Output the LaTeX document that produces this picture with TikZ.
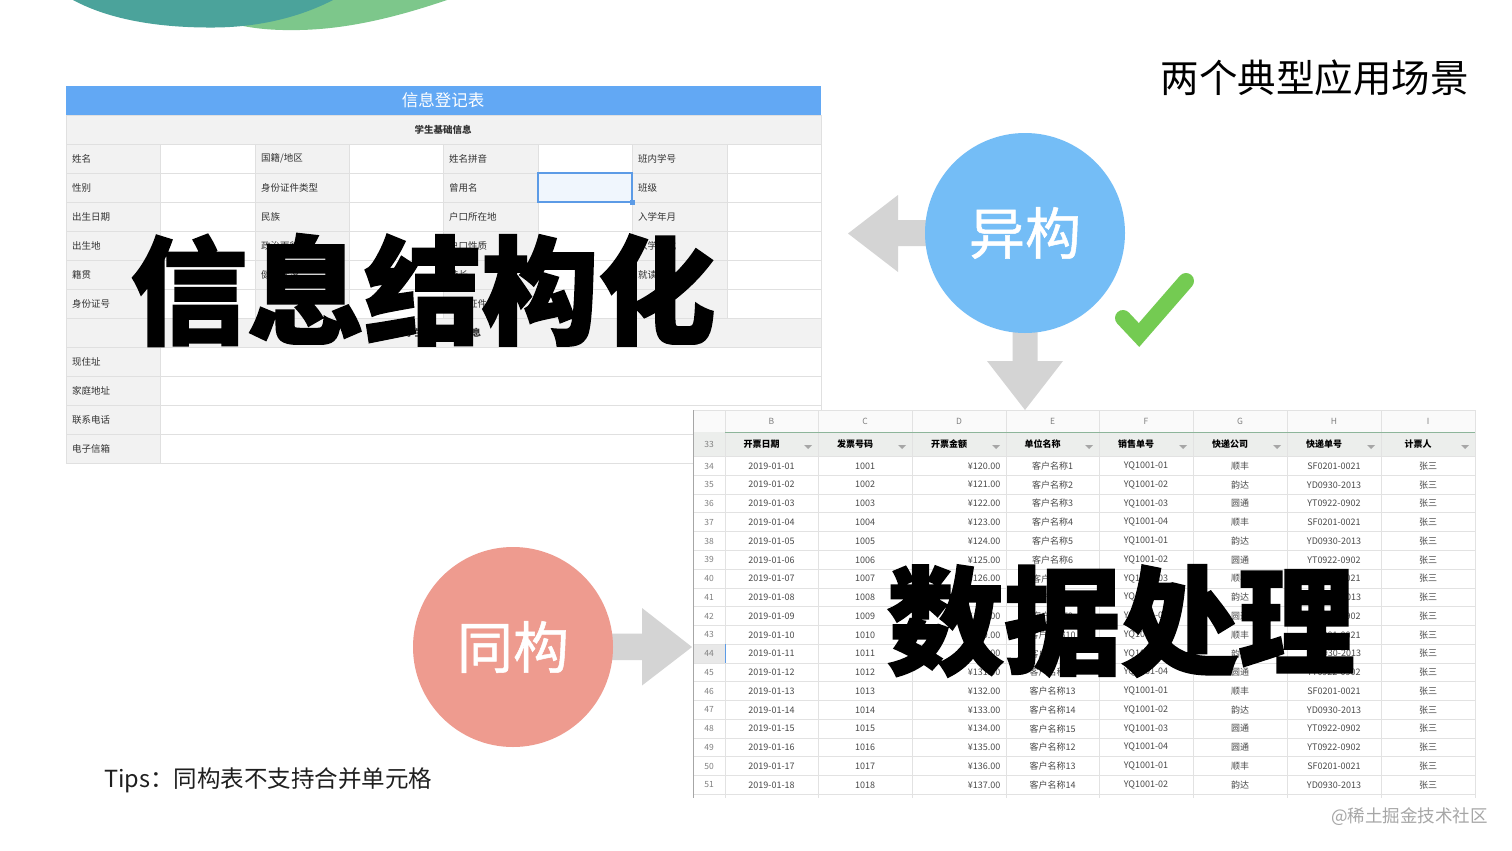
\documentclass[tikz,border=0pt]{standalone}
\usepackage{fontspec}
\setmainfont{Noto Sans CJK SC}
\newfontfamily\heavyfont{Noto Sans CJK SC}[BoldFeatures={FakeBold=1.6}]
\newfontfamily\medfont{Noto Sans CJK SC}[FakeBold=0.9]
\usetikzlibrary{calc}
\definecolor{teal1}{HTML}{4BA39B}
\definecolor{green1}{HTML}{7DC78B}
\definecolor{hdrblue}{HTML}{62A8F4}
\definecolor{cellgray}{HTML}{F2F2F2}
\definecolor{gridc}{HTML}{E0E0E0}
\definecolor{txt}{HTML}{333333}
\definecolor{circblue}{HTML}{74BDF6}
\definecolor{circred}{HTML}{EE9B8F}
\definecolor{arrowgray}{HTML}{D4D4D4}
\definecolor{checkgreen}{HTML}{74CB52}
\definecolor{selblue}{HTML}{5C9BE6}
\definecolor{selfill}{HTML}{F0F6FD}
\definecolor{sshead}{HTML}{ECEEEC}
\definecolor{ssletter}{HTML}{FAFAFA}
\definecolor{ssline}{HTML}{E2E2E2}
\definecolor{sstext}{HTML}{4A4A4A}
\definecolor{ssgreen}{HTML}{8DB59A}
\begin{document}
\begin{tikzpicture}[x=1pt,y=-1pt,
  flabel/.style={anchor=west,inner sep=0pt,text=txt,font=\fontsize{9.5}{11}\selectfont},
  sscell/.style={inner sep=0pt,text=sstext,font=\fontsize{9}{10}\selectfont},
  ssnum/.style={inner sep=0pt,text=gray,font=\fontsize{8.5}{10}\selectfont},
  sshdr/.style={inner sep=0pt,text=black,font=\fontsize{9}{10}\selectfont\bfseries},
  sslet/.style={inner sep=0pt,text=gray,font=\fontsize{8.5}{10}\selectfont},
  bigtext/.style={inner sep=0pt,text=black,font=\heavyfont\fontsize{117}{120}\selectfont\bfseries},
  bubble/.style={circle,minimum size=200pt,inner sep=0pt,text=white,font=\medfont\fontsize{56}{60}\selectfont},
  gridline/.style={draw=gridc,line width=0.8pt},
  ssgrid/.style={draw=ssline,line width=0.8pt}]
\useasboundingbox (0,0) rectangle (1512,851);
\fill[white] (0,0) rectangle (1512,851);

% decorative waves at top
\fill[green1] (190,0) .. controls (215,25) and (255,31) .. (300,30) .. controls (350,29) and (400,16) .. (447,0) -- cycle;
\fill[teal1] (73,0) .. controls (110,20) and (160,28) .. (215,27.5) .. controls (270,27) and (310,12) .. (333,0) -- cycle;

% title
\node[anchor=east,inner sep=0pt,font=\fontsize{38.5}{40}\selectfont] (title) at (1469,78) {两个典型应用场景};

% ---------------- form ----------------
\fill[hdrblue] (66,86) rectangle (821,115);
\node[inner sep=0pt,text=white,font=\fontsize{16.5}{18}\selectfont] (ftitle) at (443,100) {信息登记表};
\fill[cellgray] (66,115) rectangle (821,144);
\node[inner sep=0pt,text=txt,font=\fontsize{9.5}{11}\selectfont\bfseries] (fsub) at (443,129.5) {学生基础信息};
\foreach \xa/\xb in {66/160,255/349,443/538,632/727}{
  \fill[cellgray] (\xa,144) rectangle (\xb,318);
}
\fill[cellgray] (66,318) rectangle (821,347);
\fill[cellgray] (66,347) rectangle (160,463);
\foreach \yy in {115,144,173,202,231,260,289,318,347,376,405,434,463}{
  \draw[gridline] (66,\yy) -- (821,\yy);
}
\foreach \xx in {160,255,349,443,538,632,727}{
  \draw[gridline] (\xx,144) -- (\xx,318);
}
\draw[gridline] (160,347) -- (160,463);
\draw[gridline] (66,115) -- (66,463);
\draw[gridline] (821,115) -- (821,463);
% selected cell
\draw[selblue,fill=selfill,line width=1.2pt] (538,173) rectangle (632,202);
\fill[selblue] (630,200) rectangle (634.5,204.5);

\node[flabel] (l11) at (72,158.5) {姓名};
\node[flabel] (l12) at (261,158.5) {国籍/地区};
\node[flabel] (l13) at (449,158.5) {姓名拼音};
\node[flabel] (l14) at (638,158.5) {班内学号};
\node[flabel] (l21) at (72,187.5) {性别};
\node[flabel] (l22) at (261,187.5) {身份证件类型};
\node[flabel] (l23) at (449,187.5) {曾用名};
\node[flabel] (l24) at (638,187.5) {班级};
\node[flabel] (l31) at (72,216.5) {出生日期};
\node[flabel] (l32) at (261,216.5) {民族};
\node[flabel] (l33) at (449,216.5) {户口所在地};
\node[flabel] (l34) at (638,216.5) {入学年月};
\node[flabel] (l41) at (72,245.5) {出生地};
\node[flabel] (l42) at (261,245.5) {政治面貌};
\node[flabel] (l43) at (449,245.5) {户口性质};
\node[flabel] (l44) at (638,245.5) {入学方式};
\node[flabel] (l51) at (72,274.5) {籍贯};
\node[flabel] (l52) at (261,274.5) {健康状况};
\node[flabel] (l53) at (449,274.5) {特长};
\node[flabel] (l54) at (638,274.5) {就读方式};
\node[flabel] (l61) at (72,303.5) {身份证号};
\node[flabel] (l63) at (449,303.5) {身份证件有效期};
\node[inner sep=0pt,text=txt,font=\fontsize{9.5}{11}\selectfont\bfseries] (fsub2) at (443,332.5) {学生家庭联系信息};
\node[flabel] (l81) at (72,361.5) {现住址};
\node[flabel] (l91) at (72,390.5) {家庭地址};
\node[flabel] (l101) at (72,419.5) {联系电话};
\node[flabel] (l111) at (72,448.5) {电子信箱};

% ---------------- spreadsheet ----------------
\fill[white] (693,410) rectangle (1476,800);
\fill[ssletter] (693,410) rectangle (1475,432);
\fill[sshead] (693,432) rectangle (1475,456.6);
\fill[black!9] (693,644.2) rectangle (725,663);
\foreach \k in {0,...,18}{
  \draw[ssgrid] (693,{456.6+18.76*\k}) -- (1475,{456.6+18.76*\k});
}
\draw[ssgrid] (693,410) -- (1475,410);
\foreach \xx in {725,818,912,1006,1099,1193,1287,1381,1475}{
  \draw[ssgrid] (\xx,410) -- (\xx,798);
}
\draw[black!35,line width=0.8pt] (693,410) -- (693,798);
\draw[ssgreen,line width=1pt] (725,432) -- (1475,432);
\draw[selblue,line width=1pt] (725,644.2) -- (725,663);

\foreach \L/\cx in {B/771.5,C/865,D/959,E/1052.5,F/1146,G/1240,H/1334,I/1428}{
  \node[sslet] (let\L) at (\cx,421) {\L};
}
\node[ssnum] (n33) at (709,444) {33};
\foreach \H/\cx [count=\j] in {开票日期/761.5,发票号码/855,开票金额/949,单位名称/1042.5,销售单号/1136,快递公司/1230,快递单号/1324,计票人/1418}{
  \node[sshdr] (h\j) at (\cx,444) {\H};
}
\foreach \rx in {818,912,1006,1099,1193,1287,1381,1475}{
  \fill[gray!70] (\rx-14,445) -- (\rx-6,445) -- (\rx-10,449) -- cycle;
}

\foreach \d/\e/\f/\g/\h [count=\i from 0] in {
01/1/01/顺丰/SF0201-0021,
02/2/02/韵达/YD0930-2013,
03/3/03/圆通/YT0922-0902,
04/4/04/顺丰/SF0201-0021,
05/5/01/韵达/YD0930-2013,
06/6/02/圆通/YT0922-0902,
07/7/03/顺丰/SF0201-0021,
08/8/04/韵达/YD0930-2013,
09/9/01/圆通/YT0922-0902,
10/10/02/顺丰/SF0201-0021,
11/11/03/韵达/YD0930-2013,
12/12/04/圆通/YT0922-0902,
13/13/01/顺丰/SF0201-0021,
14/14/02/韵达/YD0930-2013,
15/15/03/圆通/YT0922-0902,
16/12/04/圆通/YT0922-0902,
17/13/01/顺丰/SF0201-0021,
18/14/02/韵达/YD0930-2013}{
  \pgfmathsetmacro\yc{466+18.76*\i}
  \pgfmathtruncatemacro\rn{34+\i}
  \pgfmathtruncatemacro\amt{120+\i}
  \node[ssnum] (r\rn) at (709,\yc) {\rn};
  \node[sscell] (b\rn) at (771.5,\yc) {2019-01-\d};
  \node[sscell] (c\rn) at (865,\yc) {10\d};
  \node[sscell,anchor=east] (d\rn) at (1000.5,\yc) {¥\amt.00};
  \node[sscell] (e\rn) at (1052.5,\yc) {客户名称\e};
  \node[sscell] (f\rn) at (1146,\yc) {YQ1001-\f};
  \node[sscell] (g\rn) at (1240,\yc) {\g};
  \node[sscell] (hh\rn) at (1334,\yc) {\h};
  \node[sscell] (i\rn) at (1428,\yc) {张三};
}

% ---------------- arrows, bubbles ----------------
\fill[arrowgray] (930,220) -- (898,220) -- (898,195) -- (848,233.5) -- (898,272) -- (898,246) -- (930,246) -- cycle;
\fill[arrowgray] (1012.5,328) -- (1012.5,361) -- (987,361) -- (1025,410) -- (1063,361) -- (1037.5,361) -- (1037.5,328) -- cycle;
\fill[arrowgray] (608,633.5) -- (642,633.5) -- (642,608) -- (692,647) -- (642,685.5) -- (642,660) -- (608,660) -- cycle;

\node[bubble,fill=circblue] (yi) at (1025,233) {异构};
\node[bubble,fill=circred] (tong) at (513,647) {同构};

% check mark
\draw[checkgreen,line width=16pt,line cap=round,line join=miter] (1123,318) -- (1139,335) -- (1186,281);

% big overlay texts
\node[bigtext] (big1) at (423,290) {信息结构化};
\node[bigtext] (big2) at (1121,621) {数据处理};

% tips & watermark
\node[anchor=west,inner sep=0pt,text=black!88,font=\fontsize{23.5}{25}\selectfont] (tips) at (104,780) {Tips：同构表不支持合并单元格};
\node[anchor=east,inner sep=0pt,text=black!35,font=\fontsize{17.5}{19}\selectfont] (wm) at (1488,817) {@稀土掘金技术社区};
\end{tikzpicture}
\end{document}
